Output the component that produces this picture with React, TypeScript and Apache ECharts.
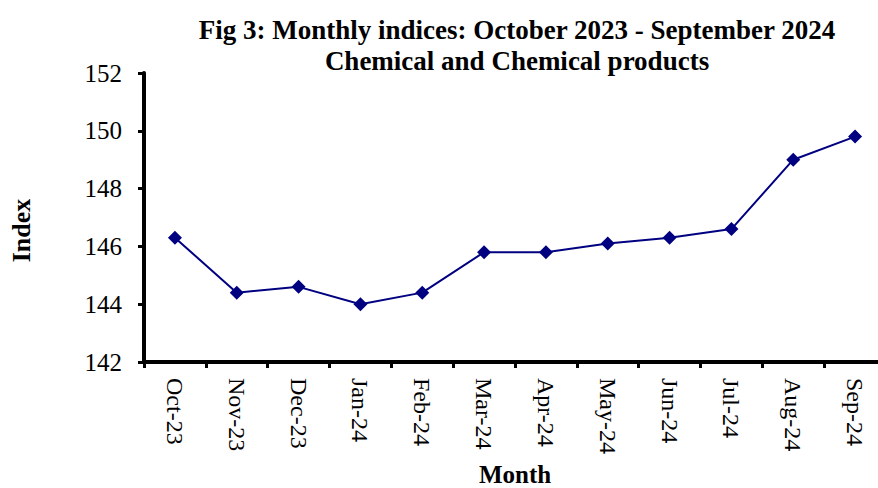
import React, { useEffect, useRef } from "react";
import * as echarts from "echarts";

const months = ["Oct-23", "Nov-23", "Dec-23", "Jan-24", "Feb-24", "Mar-24", "Apr-24", "May-24", "Jun-24", "Jul-24", "Aug-24", "Sep-24"];
const indexValues = [146.3, 144.4, 144.6, 144.0, 144.4, 145.8, 145.8, 146.1, 146.3, 146.6, 149.0, 149.8];
const titleLines = ["Fig 3: Monthly indices: October 2023 - September 2024", "Chemical and Chemical products"];
const yMin = 142;
const yMax = 152;
const yStep = 2;

export default function App() {
  const ref = useRef<HTMLDivElement>(null);
  useEffect(() => {
    document.body.style.margin = "0";
    const chart = echarts.init(ref.current!, null, { renderer: "svg" });
    const font = "Liberation Serif, Times New Roman, serif";
    chart.setOption({
      animation: false,
      backgroundColor: "#ffffff",
      title: {
        text: titleLines.join("\n"),
        left: 512,
        top: 9,
        textAlign: "center",
        textStyle: { fontFamily: font, fontWeight: "bold", fontSize: 27, lineHeight: 31, color: "#000" },
      },
      grid: { left: 144, right: -8, top: 73, bottom: 126, containLabel: false, outerBoundsMode: "none" },
      xAxis: {
        type: "category",
        data: months,
        boundaryGap: true,
        name: "Month",
        nameLocation: "middle",
        nameGap: 99,
        nameTextStyle: { fontFamily: font, fontWeight: "bold", fontSize: 25, lineHeight: 25, color: "#000" },
        axisLine: { lineStyle: { color: "#000", width: 4 } },
        axisTick: { show: true, inside: false, length: 6, alignWithLabel: false, lineStyle: { color: "#000", width: 3 } },
        axisLabel: { rotate: -90, fontFamily: font, fontSize: 24, color: "#000", margin: 16, interval: 0 },
        splitLine: { show: false },
      },
      yAxis: {
        type: "value",
        min: yMin,
        max: yMax,
        interval: yStep,
        name: "Index",
        nameLocation: "middle",
        nameGap: 110,
        nameRotate: 90,
        nameTextStyle: { fontFamily: font, fontWeight: "bold", fontSize: 26, color: "#000", padding: [0, 26, 0, 0] },
        axisLine: { show: true, lineStyle: { color: "#000", width: 4 } },
        axisTick: { show: true, inside: false, length: 6, lineStyle: { color: "#000", width: 3 } },
        axisLabel: { fontFamily: font, fontSize: 25, color: "#000", margin: 22 },
        splitLine: { show: false },
      },
      series: [
        {
          type: "line",
          data: indexValues,
          symbol: "diamond",
          symbolSize: 14,
          lineStyle: { color: "#000080", width: 2 },
          itemStyle: { color: "#000080" },
        },
      ],
    });
    return () => chart.dispose();
  }, []);
  return <div ref={ref} style={{ width: 878, height: 488 }} />;
}
